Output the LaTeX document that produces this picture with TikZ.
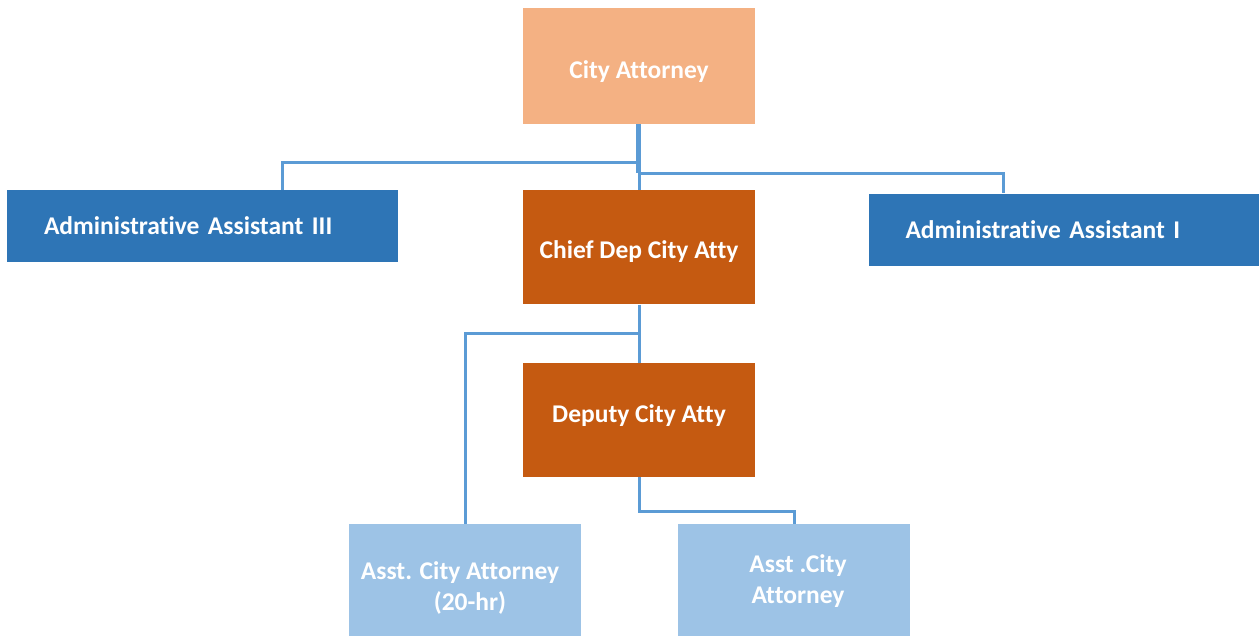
\documentclass[tikz,border=0pt]{standalone}
\usepackage{fontspec}
\setmainfont{Carlito}[Ligatures={NoCommon}]
\usepackage{xcolor}
\usepackage{tikz}
\usetikzlibrary{positioning}

\definecolor{peach}{HTML}{F4B183}
\definecolor{rust}{HTML}{C55A11}
\definecolor{navy}{HTML}{2E75B6}
\definecolor{sky}{HTML}{9DC3E6}
\definecolor{wire}{HTML}{5B9BD5}

\tikzset{
  box/.style={
    rectangle, text=white, font=\fontsize{25.5}{31}\selectfont\bfseries,
    align=center, inner sep=0pt,
  },
  lift/.style={text height=#1, text depth=0pt},
  head/.style={box, fill=peach, minimum width=232pt, minimum height=116pt},
  deputy/.style={box, fill=rust, minimum width=232pt, minimum height=114pt},
  staff/.style={box, fill=navy, minimum height=72pt,
    text width=317pt, inner xsep=37pt, align=left},
  asst/.style={box, fill=sky, minimum width=232pt},
  link/.style={draw=wire, line width=3pt},
  trunk/.style={draw=wire, line width=5pt},
}

\begin{document}
\begin{tikzpicture}[x=1pt, y=-1pt]

  \useasboundingbox (0,0) rectangle (1259,635);

  % Define nodes
  \node[head, lift=24pt] (ca) at (639,66) {City Attorney};
  \node[deputy, lift=22pt, below=66pt of ca] (chief) {Chief Dep City Atty};
  \node[deputy, lift=6pt, below=58pt of chief] (dep) {Deputy City Atty};

  \node[staff] (admin3) at (202.5,226) {Administrative Assistant III};
  \node[staff, minimum width=391pt] (admin1) at (1064,229.5) {Administrative Assistant I};

  \node[asst, minimum height=127pt] (asstA) at (465,587.5)
    {Asst. City Attorney\hspace*{10pt}\\\hspace*{10pt}(20-hr)};
  \node[asst, minimum height=115pt] (asstB) at (794,581.5)
    {\hspace*{8pt}Asst .City\\\hspace*{8pt}Attorney};

  % Connect nodes
  \draw[link] (ca.south) ++(0,38) -| ([xshift=80pt]admin3.north);
  \draw[link] (ca.south) ++(0,49) -| ([xshift=-61pt]admin1.north);
  \draw[link] (ca.south) -- (chief.north);
  \draw[trunk] ([xshift=-1pt]ca.south) -- ++(0,49);

  \draw[link] (chief.south) -- (dep.north);
  \draw[link] (chief.south) ++(0,29) -| (asstA.north);

  \draw[link] (dep.south) -- ++(0,34) -| (asstB.north);

\end{tikzpicture}
\end{document}
